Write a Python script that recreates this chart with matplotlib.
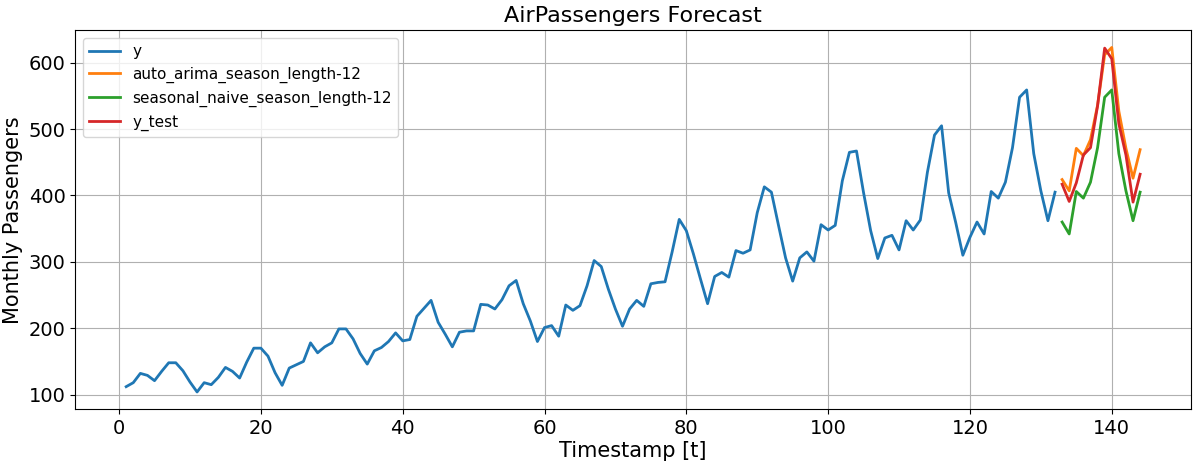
import numpy as np
import matplotlib
matplotlib.use("Agg")
from matplotlib import pyplot as plt

passengers = [112, 118, 132, 129, 121, 135, 148, 148, 136, 119, 104, 118,
              115, 126, 141, 135, 125, 149, 170, 170, 158, 133, 114, 140,
              145, 150, 178, 163, 172, 178, 199, 199, 184, 162, 146, 166,
              171, 180, 193, 181, 183, 218, 230, 242, 209, 191, 172, 194,
              196, 196, 236, 235, 229, 243, 264, 272, 237, 211, 180, 201,
              204, 188, 235, 227, 234, 264, 302, 293, 259, 229, 203, 229,
              242, 233, 267, 269, 270, 315, 364, 347, 312, 274, 237, 278,
              284, 277, 317, 313, 318, 374, 413, 405, 355, 306, 271, 306,
              315, 301, 356, 348, 355, 422, 465, 467, 404, 347, 305, 336,
              340, 318, 362, 348, 363, 435, 491, 505, 404, 359, 310, 337,
              360, 342, 406, 396, 420, 472, 548, 559, 463, 407, 362, 405,
              417, 391, 419, 461, 472, 535, 622, 606, 508, 461, 390, 432]

t_train = list(range(1, 133))
t_test = list(range(133, 145))
y_train = passengers[:132]
y_test = passengers[132:]
auto_arima = [424, 407, 471, 460, 484, 536, 612, 623, 527, 471, 426, 469]
seasonal_naive = passengers[120:132]

fig, ax = plt.subplots(figsize=(11.98, 4.65), dpi=100)
ax.plot(t_train, y_train, lw=2, label="y")
ax.plot(t_test, auto_arima, lw=2, label="auto_arima_season_length-12")
ax.plot(t_test, seasonal_naive, lw=2, label="seasonal_naive_season_length-12")
ax.plot(t_test, y_test, lw=2, label="y_test")

ax.set_title("AirPassengers Forecast", fontsize=16)
ax.set_xlabel("Timestamp [t]", fontsize=15, labelpad=2)
ax.set_ylabel("Monthly Passengers", fontsize=15)
ax.tick_params(labelsize=14)
ax.grid(True)
ax.legend(prop={"size": 11}, loc="upper left")

plt.subplots_adjust(left=0.063, right=0.994, top=0.935, bottom=0.12)
plt.savefig("out.png")
